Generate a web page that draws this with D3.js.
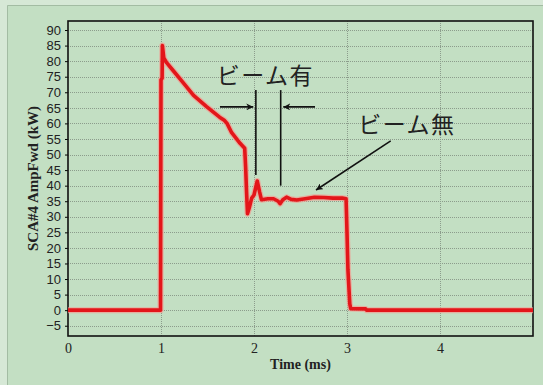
<!DOCTYPE html>
<html>
<head>
<meta charset="utf-8">
<script src="https://cdn.jsdelivr.net/npm/d3@7"></script>
<style>
  body { margin: 0; background: #d6e8d6; }
</style>
</head>
<body>
<div id="graph"></div>
<script>
const width = 543;
const height = 385;
const margin = { top: 21, right: 10, bottom: 49, left: 68 };

// waveform
const timeMs = [0, 0.995, 1.0, 1.012, 1.015, 1.03, 1.06, 1.13, 1.24, 1.35, 1.49, 1.58, 1.63, 1.68, 1.71, 1.76, 1.8, 1.85, 1.9,
  1.91, 1.92, 1.93, 1.95, 1.975, 2.0, 2.035, 2.06, 2.08, 2.15, 2.21, 2.26, 2.28, 2.31, 2.35, 2.4, 2.46, 2.55, 2.65,
  2.75, 2.85, 2.95, 2.99, 3.0, 3.01, 3.03, 3.04, 3.2, 3.21, 5];
const powerKw = [0, 0, 74, 74.5, 85, 81, 79.5, 77, 73, 69, 65.4, 63.2, 62, 61, 60, 57, 55.5, 53.6, 52,
  46, 38, 31, 33, 36, 37, 41.5, 38, 35.5, 35.8, 35.8, 35, 34.2, 35.5, 36.3, 35.6, 35.4, 35.8, 36.3,
  36.2, 36, 36, 35.8, 25, 13, 2, 0.5, 0.4, 0, 0];

const xTicks = [0, 1, 2, 3, 4];
const yTicks = [-5, 0, 5, 10, 15, 20, 25, 30, 35, 40, 45, 50, 55, 60, 65, 70, 75, 80, 85, 90];

// annotations in data units
const beamOnLines = [[2.02, 70.7, 43.4], [2.287, 70.7, 40]];
const beamOnArrows = [[1.634, 1.992, 65.3], [2.656, 2.315, 65.3]];
const beamOffArrow = [3.47, 54.4, 2.667, 38.6];
const labels = [
  { text: "ビーム有", t: 1.6, v: 72.5 },
  { text: "ビーム無", t: 3.12, v: 56.8 }
];

const svg = d3.select("#graph")
  .append("svg")
  .attr("width", width)
  .attr("height", height);

svg.append("rect")
  .attr("x", 7).attr("y", 5)
  .attr("width", width - 7).attr("height", height - 5)
  .attr("fill", "#c3dfc3");
svg.append("path")
  .attr("d", "M7.5," + height + "V5.5H" + width)
  .attr("fill", "none")
  .attr("stroke", "#a3bca3");

const x = d3.scaleLinear().domain([0, 5]).range([margin.left, width - margin.right]);
const y = d3.scaleLinear().domain([-8.3, 92.9]).range([height - margin.bottom, margin.top]);

// grid
svg.append("g")
  .selectAll("line")
  .data(yTicks)
  .join("line")
  .attr("x1", margin.left).attr("x2", width - margin.right)
  .attr("y1", d => Math.round(y(d)) + 0.5).attr("y2", d => Math.round(y(d)) + 0.5)
  .attr("stroke", "#8c9c8c")
  .attr("stroke-width", 1)
  .attr("stroke-dasharray", "1,1");

svg.append("g")
  .selectAll("line")
  .data(xTicks.slice(1))
  .join("line")
  .attr("x1", d => Math.round(x(d)) + 0.5).attr("x2", d => Math.round(x(d)) + 0.5)
  .attr("y1", margin.top).attr("y2", height - margin.bottom)
  .attr("stroke", "#8c9c8c")
  .attr("stroke-width", 1)
  .attr("stroke-dasharray", "1,1");

// axes
const yAxis = d3.axisLeft(y).tickValues(yTicks).tickSize(3).tickPadding(4)
  .tickFormat(d => d < 0 ? "\u2212" + Math.abs(d) : d);
svg.append("g")
  .attr("transform", "translate(" + margin.left + ",0)")
  .call(yAxis)
  .call(g => g.select(".domain").remove())
  .selectAll("text")
  .attr("font-family", "Liberation Sans, Arial, sans-serif")
  .attr("font-size", 13)
  .attr("fill", "#222");

const xAxis = d3.axisBottom(x).tickValues(xTicks).tickSize(0).tickPadding(7).tickFormat(d3.format("d"));
svg.append("g")
  .attr("transform", "translate(0," + (height - margin.bottom) + ")")
  .call(xAxis)
  .call(g => g.select(".domain").remove())
  .selectAll("text")
  .attr("font-family", "Liberation Serif, Times New Roman, serif")
  .attr("font-size", 14)
  .attr("fill", "#222");

// frame
svg.append("rect")
  .attr("x", margin.left).attr("y", margin.top)
  .attr("width", width - margin.right - margin.left)
  .attr("height", height - margin.bottom - margin.top)
  .attr("fill", "none")
  .attr("stroke", "#111")
  .attr("stroke-width", 1.6);

svg.append("text")
  .attr("x", (margin.left + width - margin.right) / 2)
  .attr("y", 369)
  .attr("text-anchor", "middle")
  .attr("font-family", "Liberation Serif, Times New Roman, serif")
  .attr("font-weight", "bold")
  .attr("font-size", 14)
  .attr("fill", "#222")
  .text("Time (ms)");

svg.append("text")
  .attr("transform", "translate(38," + ((margin.top + height - margin.bottom) / 2) + ") rotate(-90)")
  .attr("text-anchor", "middle")
  .attr("font-family", "Liberation Serif, Times New Roman, serif")
  .attr("font-weight", "bold")
  .attr("font-size", 15)
  .attr("fill", "#222")
  .text("SCA#4 AmpFwd (kW)");

// waveform
const points = timeMs.map((t, i) => [t, powerKw[i]]);
const line = d3.line().x(d => x(d[0])).y(d => y(d[1]));

svg.append("path")
  .datum(points)
  .attr("d", line)
  .attr("fill", "none")
  .attr("stroke", "#f39a90")
  .attr("stroke-width", 6)
  .attr("stroke-linejoin", "round")
  .attr("opacity", 0.7);
svg.append("path")
  .datum(points)
  .attr("d", line)
  .attr("fill", "none")
  .attr("stroke", "#e3161a")
  .attr("stroke-width", 3.6)
  .attr("stroke-linejoin", "round");

// annotations
const defs = svg.append("defs");
defs.append("marker")
  .attr("id", "head")
  .attr("viewBox", "0 0 10 10")
  .attr("refX", 10).attr("refY", 5)
  .attr("markerWidth", 7).attr("markerHeight", 7)
  .attr("markerUnits", "userSpaceOnUse")
  .attr("orient", "auto")
  .append("path")
  .attr("d", "M0,0L10,5L0,10L3,5Z")
  .attr("fill", "#111");

const ann = svg.append("g").attr("stroke", "#111").attr("stroke-width", 1.6);
ann.selectAll(".vl")
  .data(beamOnLines)
  .join("line")
  .attr("x1", d => x(d[0])).attr("x2", d => x(d[0]))
  .attr("y1", d => y(d[1])).attr("y2", d => y(d[2]));

ann.selectAll(".ar")
  .data(beamOnArrows)
  .join("line")
  .attr("x1", d => x(d[0])).attr("x2", d => x(d[1]))
  .attr("y1", d => y(d[2])).attr("y2", d => y(d[2]))
  .attr("marker-end", "url(#head)");

ann.append("line")
  .attr("x1", x(beamOffArrow[0])).attr("y1", y(beamOffArrow[1]))
  .attr("x2", x(beamOffArrow[2])).attr("y2", y(beamOffArrow[3]))
  .attr("marker-end", "url(#head)");

svg.selectAll(".lbl")
  .data(labels)
  .join("text")
  .attr("x", d => x(d.t))
  .attr("y", d => y(d.v))
  .attr("font-family", "Noto Sans CJK JP, sans-serif")
  .attr("font-size", 23)
  .attr("letter-spacing", 1.5)
  .attr("fill", "#222")
  .text(d => d.text);
</script>
</body>
</html>
